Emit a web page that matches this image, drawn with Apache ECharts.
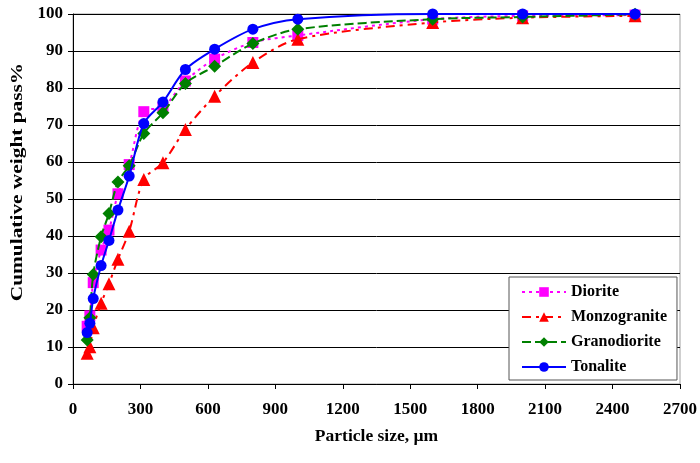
<!DOCTYPE html>
<html>
<head>
<meta charset="utf-8">
<script src="https://cdn.jsdelivr.net/npm/echarts@6/dist/echarts.min.js"></script>
<style>
  html, body { margin: 0; padding: 0; background: #fff; }
  #chart { width: 700px; height: 463px; }
</style>
</head>
<body>
<div id="chart"></div>
<script>
// particle sizes (µm) of the sieves
var sizes = [63, 75, 90, 125, 160, 200, 250, 315, 400, 500, 630, 800, 1000, 1600, 2000, 2500];

// cumulative weight pass %
var diorite      = [15.6, 18.4, 27.4, 36.2, 41.6, 51.4, 59.3, 73.6, 74.8, 81.9, 87.8, 92.3, 94.2, 98.6, 99.5, 99.7];
var monzogranite = [8.3, 10.1, 15.2, 21.8, 27.1, 33.7, 41.3, 55.3, 59.8, 68.8, 77.8, 86.9, 93.2, 97.7, 99.0, 99.5];
var granodiorite = [11.9, 17.9, 29.6, 39.8, 46.1, 54.6, 59.0, 67.7, 73.3, 81.2, 85.9, 92.0, 95.9, 98.6, 99.2, 99.9];
var tonalite     = [13.9, 16.4, 23.1, 32.0, 38.8, 47.0, 56.2, 70.4, 76.2, 85.0, 90.5, 95.9, 98.6, 100, 100, 100];

function pairs(ys) {
    return sizes.map(function (x, i) { return [x, ys[i]]; });
}

var serif = "'Liberation Serif', 'Times New Roman', serif";

var myChart = echarts.init(document.getElementById('chart'));
myChart.setOption({
    animation: false,
    backgroundColor: '#ffffff',
    grid: {
        left: 73, right: 18, top: 14, bottom: 79,
        show: true,
        borderColor: '#a0a0a0',
        borderWidth: 1
    },
    // y axis title: stretched lettering, a little above the middle of the axis
    graphic: [{
        type: 'text',
        x: 17,
        y: 182,
        rotation: Math.PI / 2,
        scaleX: 1.22,
        style: {
            text: 'Cumulative weight pass%',
            font: 'bold 17.5px ' + serif,
            fill: '#000',
            textAlign: 'center',
            textVerticalAlign: 'middle'
        }
    }],
    legend: {
        orient: 'vertical',
        left: 509,
        top: 277,
        padding: [7, 10, 5, 12],
        backgroundColor: '#fff',
        borderColor: '#555',
        borderWidth: 1,
        itemWidth: 44,
        itemHeight: 12,
        itemGap: 9,
        textStyle: { fontFamily: serif, fontWeight: 'bold', fontSize: 16, color: '#000' },
        data: ['Diorite', 'Monzogranite', 'Granodiorite', 'Tonalite']
    },
    xAxis: {
        type: 'value',
        min: 0, max: 2700, interval: 300,
        name: 'Particle size, µm',
        nameLocation: 'middle',
        nameGap: 43,
        nameTextStyle: { fontFamily: serif, fontWeight: 'bold', fontSize: 17.5, color: '#000' },
        axisLine: { lineStyle: { color: '#000', width: 1 } },
        axisTick: { show: true, length: 5, lineStyle: { color: '#000' } },
        axisLabel: {
            fontFamily: serif, fontWeight: 'bold', fontSize: 17, color: '#000', margin: 17,
            formatter: function (v) { return String(v); }
        },
        splitLine: { show: false }
    },
    yAxis: {
        type: 'value',
        min: 0, max: 100, interval: 10,
        axisLine: { show: true, lineStyle: { color: '#000', width: 1 } },
        axisTick: { show: true, length: 5, lineStyle: { color: '#000' } },
        axisLabel: { fontFamily: serif, fontWeight: 'bold', fontSize: 17, color: '#000', margin: 10 },
        splitLine: { show: true, lineStyle: { color: '#000', width: 1 } }
    },
    series: [
        {
            name: 'Diorite',
            type: 'line',
            smooth: 0.3,
            data: pairs(diorite),
            symbol: 'rect',
            symbolSize: 11,
            itemStyle: { color: '#ff00ff' },
            lineStyle: { color: '#ff00ff', width: 2, type: [3, 4] },
            z: 2
        },
        {
            name: 'Monzogranite',
            type: 'line',
            smooth: 0.3,
            data: pairs(monzogranite),
            symbol: 'triangle',
            symbolSize: 13,
            itemStyle: { color: '#ff0000' },
            lineStyle: { color: '#ff0000', width: 2, type: [9, 5, 3, 5] },
            z: 3
        },
        {
            name: 'Granodiorite',
            type: 'line',
            smooth: 0.3,
            data: pairs(granodiorite),
            symbol: 'diamond',
            symbolSize: 13,
            itemStyle: { color: '#008000' },
            lineStyle: { color: '#008000', width: 2, type: [9, 4] },
            z: 4
        },
        {
            name: 'Tonalite',
            type: 'line',
            smooth: 0.3,
            data: pairs(tonalite),
            symbol: 'circle',
            symbolSize: 11,
            itemStyle: { color: '#0000ff' },
            lineStyle: { color: '#0000ff', width: 2 },
            z: 5
        }
    ]
});
</script>
</body>
</html>
